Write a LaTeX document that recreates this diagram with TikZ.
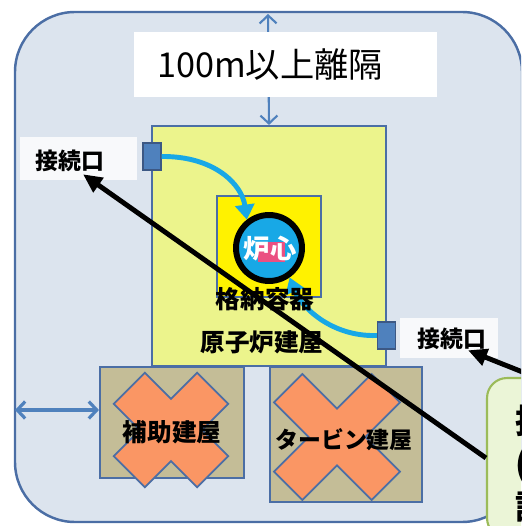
\documentclass[tikz,border=0pt]{standalone}
\usepackage{fontspec}
\setmainfont{Noto Sans CJK JP}
\usetikzlibrary{arrows.meta,calc}
\definecolor{siteFill}{RGB}{220,228,238}
\definecolor{siteLine}{RGB}{75,110,165}
\definecolor{bldFill}{RGB}{236,244,140}
\definecolor{subFill}{RGB}{196,189,151}
\definecolor{crossFill}{RGB}{250,150,100}
\definecolor{portFill}{RGB}{79,129,189}
\definecolor{flowCyan}{RGB}{24,168,230}
\definecolor{noteFill}{RGB}{235,245,215}
\definecolor{noteLine}{RGB}{155,187,89}
\definecolor{coreRed}{RGB}{235,80,130}
\def\crossmark[#1](#2)(#3:#4){\draw[#1, shift={(#2)}, rotate=45] (#3,#4) -- (#4,#4) -- (#4,#3) -- (-#4,#3) -- (-#4,#4) -- (-#3,#4) -- (-#3,-#4) -- (-#4,-#4) -- (-#4,-#3) -- (#4,-#3) -- (#4,-#4) -- (#3,-#4) -- cycle;}

\begin{document}
\begin{tikzpicture}[x=0.02cm, y=-0.02cm,
	bld/.style={draw=siteLine, line width=1.2pt, inner sep=0},
	lbl/.style={inner sep=0, font=\bfseries\fontsize{14}{16}\selectfont},
	port/.style={draw=siteLine!80!black, fill=portFill, line width=0.8pt, minimum width=0.36cm, minimum height=0.54cm, inner sep=0},
	flow/.style={draw=flowCyan, line width=2.8pt, -{Triangle[length=3mm, width=3.8mm]}},
	gap/.style={draw=portFill, <->, >={Straight Barb[length=1.6mm, width=3.4mm]}},
	callarrow/.style={draw=black, line width=2.8pt, -{Triangle[length=3.8mm, width=3.4mm]}},
	xmark/.style={draw=siteLine, fill=crossFill, line width=1pt}]
		%%%%% START %%%%%
		\clip (0,0) rectangle (521,526);
		
		% site boundary
		\draw[fill=siteFill, draw=siteLine, line width=1.4pt, rounded corners=1.2cm] (15,12) rectangle (522,522);
		\coordinate (siteTop) at (268,14);
		\coordinate (siteLeft) at (15,410);
		
		% reactor building
		\node[bld, fill=bldFill, minimum width=4.68cm, minimum height=4.8cm] (bldR) at (269,246) {};
		\node[bld, fill=yellow, minimum width=2.08cm, minimum height=2.02cm] (cont) at (269,246.5) {};
		\node[port] (portA) at (152,156.5) {};
		\node[port] (portB) at (386.5,335.5) {};
		
		\node[circle, draw=black, fill=flowCyan, line width=3.4pt, minimum size=1.32cm, inner sep=0] (core) at (269,248) {};
		\fill[coreRed] (258,242) rectangle (285,262);
		\node[inner sep=0, text=white, font=\bfseries\fontsize{15}{17}\selectfont] (coreTxt) at (270,249) {炉心};
		
		\draw[flow] (portA.east) .. controls (215,156) and (242,185) .. (core.128);
		\draw[flow] (portB.west) .. controls (330,337) and (300,305) .. (core.-55);
		
		\node[lbl] (contTxt) at (265,299) {格納容器};
		\node[lbl] (bldRTxt) at (262,342) {原子炉建屋};
		
		% distance marks
		\draw[gap, line width=1.2pt] (siteTop) -- (bldR.north);
		\fill[white] (134,32) rectangle (437,97);
		\node[inner sep=0, font=\fontsize{19.5}{22}\selectfont] (gapTxt) at (270,65) {100m以上離隔};
		
		% auxiliary and turbine buildings
		\node[bld, fill=subFill, minimum width=2.88cm, minimum height=2.22cm] (aux) at (172,422.5) {};
		\node[bld, fill=subFill, minimum width=3.04cm, minimum height=2.7cm] (turb) at (346,434.5) {};
		\crossmark[xmark](171,430)(59:22);
		\crossmark[xmark](337,437)(69:20);
		\node[lbl] (auxTxt) at (172,432) {補助建屋};
		\node[lbl, font=\bfseries\fontsize{13}{15}\selectfont] (turbTxt) at (344,440) {タービン建屋};
		
		\draw[gap, line width=1.8pt] (siteLeft) -- (aux.west |- siteLeft);
		
		% connection labels
		\fill[white, fill opacity=0.8] (20,137) rectangle (137,180);
		\node[lbl, font=\bfseries\fontsize{13}{15}\selectfont] (lblA) at (70,161) {接続口};
		\fill[white, fill opacity=0.8] (400,318) rectangle (498,358);
		\node[lbl, font=\bfseries\fontsize{13}{15}\selectfont] (lblB) at (452,339) {接続口};
		
		% callout
		\node[draw=noteLine, fill=noteFill, line width=1.2pt, rounded corners=0.4cm, minimum width=1.92cm, minimum height=3.2cm] (note) at (535,458) {};
		\node[anchor=north west, align=left, inner sep=0, font=\bfseries\fontsize{19}{24.4}\selectfont] (noteTxt) at (515,405) {接\\(\\設};
		
		\draw[callarrow] (note.west) -- ($(lblA.south)+(13,2)$);
		\draw[callarrow] (note.north) -- ($(lblB.south)+(16,0)$);
		%%%%% END %%%%%
\end{tikzpicture}
\end{document}
